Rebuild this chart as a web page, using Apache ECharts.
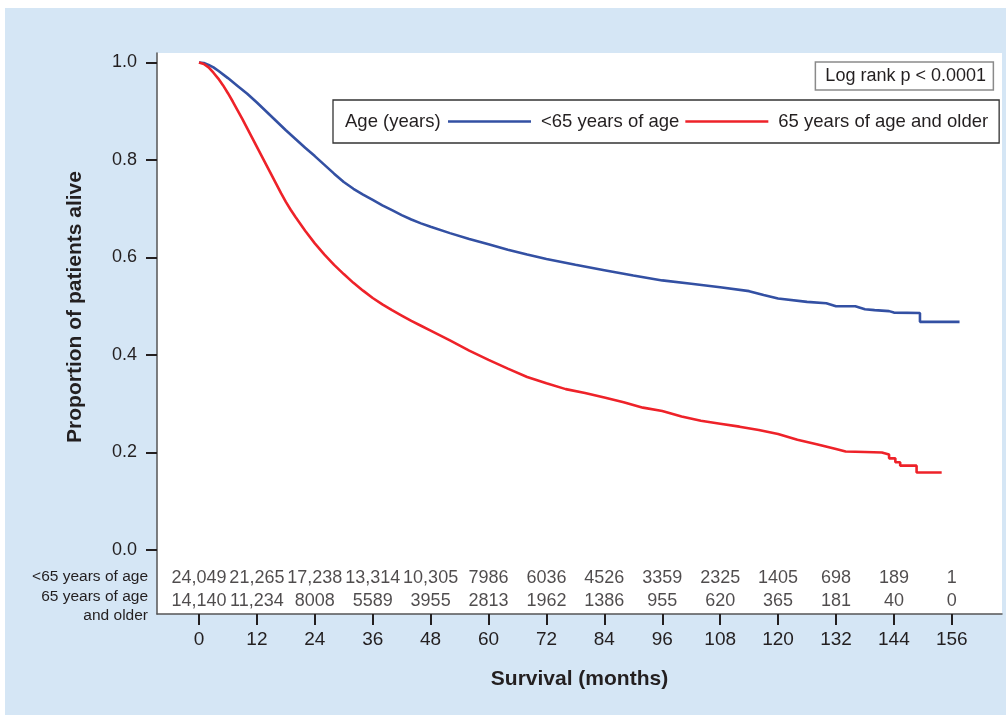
<!DOCTYPE html>
<html>
<head>
<meta charset="utf-8">
<script src="https://cdn.jsdelivr.net/npm/echarts@6/dist/echarts.min.js"></script>
<style>
  html, body { margin: 0; padding: 0; background: #ffffff; }
  #wrap { position: relative; width: 1006px; height: 715px; background: #ffffff; overflow: hidden; }
  #bg { position: absolute; left: 5px; top: 8px; width: 1001px; height: 707px; background: #d5e6f5; }
  #chart { position: absolute; left: 0; top: 0; width: 1006px; height: 715px; }
</style>
</head>
<body>
<div id="wrap"><div id="bg"></div><div id="chart"></div></div>
<script>
// ---- data ----
const monthTicks = [0, 12, 24, 36, 48, 60, 72, 84, 96, 108, 120, 132, 144, 156];
const yTicks = [0, 0.2, 0.4, 0.6, 0.8, 1.0];
const atRiskUnder65 = ['24,049', '21,265', '17,238', '13,314', '10,305', '7986', '6036', '4526', '3359', '2325', '1405', '698', '189', '1'];
const atRiskOver65 = ['14,140', '11,234', '8008', '5589', '3955', '2813', '1962', '1386', '955', '620', '365', '181', '40', '0'];
const seriesNames = ['<65 years of age', '65 years of age and older'];

const under65Curve = [
  [0, 1.0], [1, 0.999], [2, 0.995], [3, 0.990], [4, 0.983], [6, 0.968], [8, 0.952],
  [10, 0.936], [12, 0.918], [14, 0.899], [16, 0.880], [18, 0.861], [20, 0.843], [22, 0.825],
  [24, 0.808], [26, 0.790], [28, 0.772], [30, 0.755], [32, 0.741], [34, 0.729], [36, 0.718],
  [38, 0.707], [40, 0.697], [42, 0.687], [44, 0.678], [46, 0.670], [48, 0.663], [52, 0.650],
  [56, 0.638], [60, 0.627], [64, 0.616], [68, 0.606], [72, 0.597], [78, 0.585], [84, 0.574],
  [90, 0.563], [96, 0.553], [102, 0.546], [108, 0.539], [114, 0.531], [117, 0.523],
  [120, 0.516], [126, 0.509], [130, 0.506], [132, 0.500], [136, 0.500], [138, 0.494],
  [140, 0.492], [143, 0.490], [144, 0.487], [149.4, 0.486], [149.4, 0.468], [157.6, 0.468]
];
const over65Curve = [
  [0, 1.0], [1, 0.997], [2, 0.990], [3, 0.979], [4, 0.967], [5, 0.953], [6, 0.937],
  [7, 0.920], [8, 0.902], [9, 0.884], [10, 0.865], [11, 0.846], [12, 0.827], [13, 0.808],
  [14, 0.789], [15, 0.770], [16, 0.751], [17, 0.732], [18, 0.714], [19, 0.698], [20, 0.683],
  [22, 0.655], [24, 0.629], [26, 0.606], [28, 0.585], [30, 0.566], [32, 0.548], [34, 0.532],
  [36, 0.517], [38, 0.504], [40, 0.492], [42, 0.481], [44, 0.470], [46, 0.460], [48, 0.450],
  [52, 0.430], [56, 0.409], [60, 0.390], [64, 0.372], [68, 0.355], [72, 0.342], [76, 0.330],
  [80, 0.322], [84, 0.313], [88, 0.303], [92, 0.292], [96, 0.285], [100, 0.274], [104, 0.265],
  [108, 0.259], [112, 0.253], [116, 0.246], [120, 0.238], [124, 0.226], [128, 0.217],
  [132, 0.207], [134, 0.202], [138, 0.201], [141.5, 0.200], [141.5, 0.196], [143, 0.196],
  [143, 0.188], [144.3, 0.188], [144.3, 0.180], [145.3, 0.180], [145.3, 0.173], [148.7, 0.173],
  [148.7, 0.159], [153.9, 0.159]
];

// ---- chart ----
const FONT = '"Liberation Sans", Arial, Helvetica, sans-serif';
const TXT = '#231f20';
const BLUE = '#3350a3';
const RED = '#ee2229';
const ROW1_Y = -0.0574;
const ROW2_Y = -0.105;

const chart = echarts.init(document.getElementById('chart'), null, { renderer: 'canvas' });

function atRiskSeries(name, rowY, labels) {
  return {
    name: name,
    type: 'scatter',
    symbolSize: 0,
    silent: true,
    z: 5,
    data: monthTicks.map((m, i) => ({ value: [m, rowY], label: { formatter: labels[i] } })),
    label: {
      show: true, position: 'inside',
      fontFamily: FONT, fontSize: 18, color: TXT
    }
  };
}

const option = {
  backgroundColor: 'transparent',
  animation: false,
  textStyle: { fontFamily: FONT },
  title: {
    text: 'Log rank p < 0.0001',
    right: 12, top: 62,
    padding: [4, 8, 4, 10],
    borderColor: '#8a8a8a', borderWidth: 1.5,
    backgroundColor: '#ffffff',
    textStyle: { fontFamily: FONT, fontSize: 18, fontWeight: 'normal', color: TXT, lineHeight: 20 }
  },
  legend: {
    data: seriesNames,
    left: 333, top: 100,
    orient: 'horizontal',
    padding: [12, 11, 12, 115],
    itemWidth: 83, itemHeight: 2.5,
    itemGap: 6,
    icon: 'rect',
    borderColor: '#333333', borderWidth: 1.3,
    backgroundColor: '#ffffff',
    selectedMode: false,
    textStyle: { fontFamily: FONT, fontSize: 18.5, color: TXT, padding: [0, 0, 0, 5], lineHeight: 19 }
  },
  grid: {
    left: 157, right: 4, top: 53, bottom: 101,
    show: true, backgroundColor: '#ffffff', borderWidth: 0
  },
  xAxis: {
    type: 'value',
    min: -8.70, max: 166.4,
    splitLine: { show: false },
    axisLine: { show: true, onZero: false, lineStyle: { color: '#555555', width: 1.5 } },
    axisTick: { show: true, customValues: monthTicks, length: 11, lineStyle: { color: '#231f20', width: 2 } },
    axisLabel: { customValues: monthTicks, margin: 16, fontFamily: FONT, fontSize: 19, color: TXT },
    name: 'Survival (months)',
    nameLocation: 'middle',
    nameGap: 55,
    nameTextStyle: { fontFamily: FONT, fontSize: 21, fontWeight: 'bold', color: TXT }
  },
  yAxis: {
    type: 'value',
    min: -0.1313, max: 1.0195,
    splitLine: { show: false },
    axisLine: { show: true, onZero: false, lineStyle: { color: '#555555', width: 1.5 } },
    axisTick: { show: true, customValues: yTicks, length: 11, lineStyle: { color: '#231f20', width: 2 } },
    axisLabel: {
      customValues: yTicks, margin: 20, fontFamily: FONT, fontSize: 18, color: TXT,
      formatter: v => v.toFixed(1)
    }
  },
  graphic: [
    {
      type: 'text', x: 75, y: 307, rotation: Math.PI / 2,
      style: { text: 'Proportion of patients alive', font: 'bold 21px ' + FONT, fill: TXT, align: 'center', verticalAlign: 'middle' }
    },
    {
      type: 'text', x: 345, y: 122, z: 100,
      style: { text: 'Age (years)', font: '18.5px ' + FONT, fill: TXT, align: 'left', verticalAlign: 'middle' }
    },
    {
      type: 'text', x: 148, y: 577,
      style: { text: '<65 years of age', font: '15.5px ' + FONT, fill: TXT, align: 'right', verticalAlign: 'middle' }
    },
    {
      type: 'text', x: 148, y: 597,
      style: { text: '65 years of age', font: '15.5px ' + FONT, fill: TXT, align: 'right', verticalAlign: 'middle' }
    },
    {
      type: 'text', x: 148, y: 616,
      style: { text: 'and older', font: '15.5px ' + FONT, fill: TXT, align: 'right', verticalAlign: 'middle' }
    }
  ],
  series: [
    {
      name: seriesNames[0], type: 'line', data: under65Curve,
      showSymbol: false, symbol: 'none', z: 3,
      lineStyle: { color: BLUE, width: 2.6 }, itemStyle: { color: BLUE }
    },
    {
      name: seriesNames[1], type: 'line', data: over65Curve,
      showSymbol: false, symbol: 'none', z: 3,
      lineStyle: { color: RED, width: 2.6 }, itemStyle: { color: RED }
    },
    atRiskSeries('atRiskUnder65', ROW1_Y, atRiskUnder65),
    atRiskSeries('atRiskOver65', ROW2_Y, atRiskOver65)
  ]
};
chart.setOption(option);
</script>
</body>
</html>
